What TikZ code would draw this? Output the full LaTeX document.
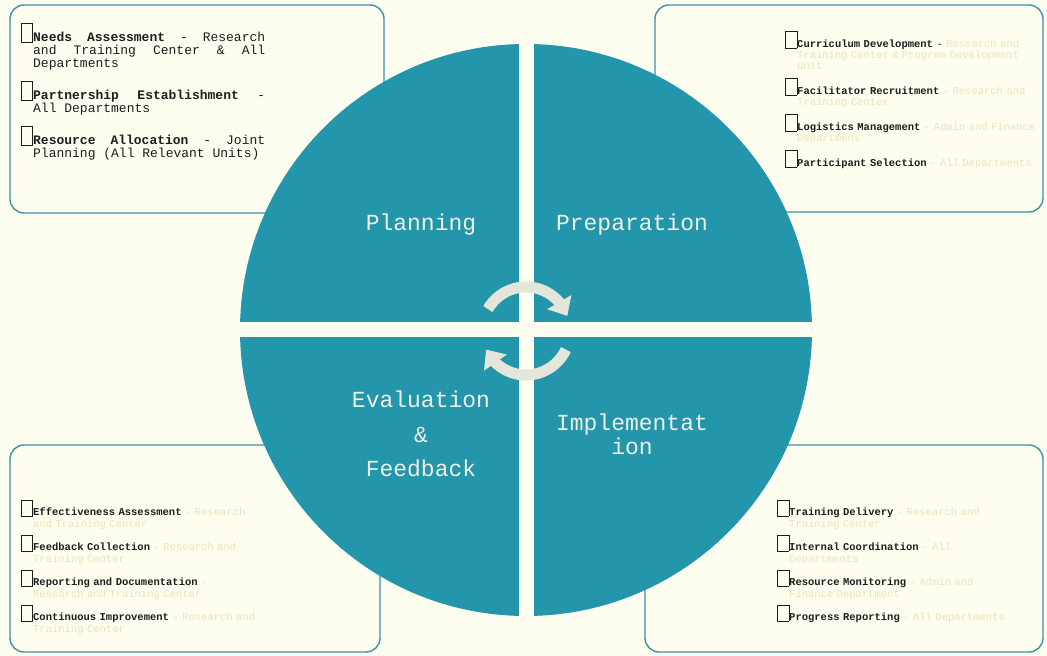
\documentclass[tikz,border=0pt]{standalone}
\usepackage{fontspec}
\setmainfont{Liberation Mono}
\usetikzlibrary{arrows.meta,bending}
\definecolor{paper}{HTML}{FDFDF0}
\definecolor{wheel}{HTML}{2496AC}
\definecolor{rim}{HTML}{3E92A4}
\definecolor{pale}{HTML}{ECE5BA}
\definecolor{ink}{HTML}{1E1E1E}
\definecolor{swirl}{HTML}{E3E6D8}
\definecolor{chalk}{HTML}{EEF0E4}
\newcommand{\ckbox}[1]{\leavevmode\llap{\smash{\setlength{\fboxsep}{0pt}\setlength{\fboxrule}{0.7pt}\fbox{\rule{0pt}{#1}\hspace{11pt}}}}}
\newcommand{\faded}[1]{\textcolor{pale}{#1}}
\newcommand{\stretchsp}{\fontdimen3\font=5pt\fontdimen4\font=0pt
  {\bfseries\fontdimen3\font=5pt\fontdimen4\font=0pt}\hyphenpenalty=10000}

\begin{document}
\begin{tikzpicture}[x=1pt, y=1pt,
		card/.style={draw=rim, line width=1.4pt, rounded corners=14pt, fill=paper},
		items/.style={anchor=north west, inner sep=0pt, align=left, text=ink},
		big/.style={items, align=justify, font={\fontsize{13}{13}\selectfont\stretchsp\setlength{\parskip}{19pt}}},
		small/.style={items, font={\fontsize{10.5}{11}\selectfont\stretchsp\setlength{\parskip}{14pt}}},
		low/.style={items, font={\fontsize{10.5}{12}\selectfont\stretchsp\setlength{\parskip}{11pt}}},
		phase/.style={text=chalk, inner sep=0pt, font={\fontsize{23}{24}\selectfont}},
		cyc/.style={draw=swirl, line width=11pt, -{Triangle[width=27pt, length=16pt, flex]}},
		]

		% ---- background ----
		\fill[paper] (0,0) rectangle (1047,656);
		\useasboundingbox (0,0) rectangle (1047,656);

		% ---- corner cards ----
		\draw[card] (10,443) rectangle (384,651);
		\draw[card] (655,444) rectangle (1043,651);
		\draw[card] (10,4) rectangle (380,211);
		\draw[card] (645,4) rectangle (1043,211);

		% ---- wheel ----
		\coordinate (hub) at (526,326);
		\fill[wheel] (hub) circle[radius=286];
		\fill[paper] (518.5,40) rectangle (533.5,612);
		\fill[paper] (240,318.5) rectangle (812,333.5);

		\node[phase, anchor=base] (plan) at (421,425) {Planning};
		\node[phase, anchor=base] (prep) at (632,425) {Preparation};
		\node[phase, align=center, font={\fontsize{23}{34.5}\selectfont}] (eval) at (421,222)
		{Evaluation\\\&\\Feedback};
		\node[phase, align=center] (impl) at (632,222) {Implementat\\ion};

		% ---- cycle arrows ----
		\coordinate (spin) at (526,325);
		\draw[cyc] ([shift={(150:44)}]spin) arc[start angle=150, end angle=20, radius=44];
		\draw[cyc] ([shift={(-25:44)}]spin) arc[start angle=-25, end angle=-155, radius=44];

		% ---- card texts ----
		\node[big, text width=232pt] (plannote) at (33,624)
		{\ckbox{18pt}\textbf{Needs Assessment} - Research and Training Center \& All Departments\par
			\ckbox{18pt}\textbf{Partnership Establishment} - All Departments\par
			\ckbox{18pt}\textbf{Resource Allocation} - Joint Planning (All Relevant Units)};

		\node[small, text width=247pt] (prepnote) at (797,616)
		{\ckbox{16pt}\textbf{Curriculum Development} - \faded{Research and Training Center \& Program Development Unit}\par
			\ckbox{16pt}\textbf{Facilitator Recruitment} \faded{- Research and Training Center}\par
			\ckbox{16pt}\textbf{Logistics Management} \faded{- Admin and Finance Department}\par
			\ckbox{16pt}\textbf{Participant Selection} \faded{- All Departments}};

		\node[low, text width=225pt] (evalnote) at (33,148)
		{\ckbox{15pt}\textbf{Effectiveness Assessment} \faded{- Research and Training Center}\par
			\ckbox{15pt}\textbf{Feedback Collection} \faded{- Research and Training Center}\par
			\ckbox{15pt}\textbf{Reporting and Documentation} \faded{- Research and Training Center}\par
			\ckbox{15pt}\textbf{Continuous Improvement} \faded{- Research and Training Center}};

		\node[low, text width=231pt] (implnote) at (789,148)
		{\ckbox{15pt}\textbf{Training Delivery} \faded{- Research and Training Center}\par
			\ckbox{15pt}\textbf{Internal Coordination} \faded{- All Departments}\par
			\ckbox{15pt}\textbf{Resource Monitoring} \faded{- Admin and Finance Department}\par
			\ckbox{15pt}\textbf{Progress Reporting} \faded{- All Departments}};

	\end{tikzpicture}
\end{document}
